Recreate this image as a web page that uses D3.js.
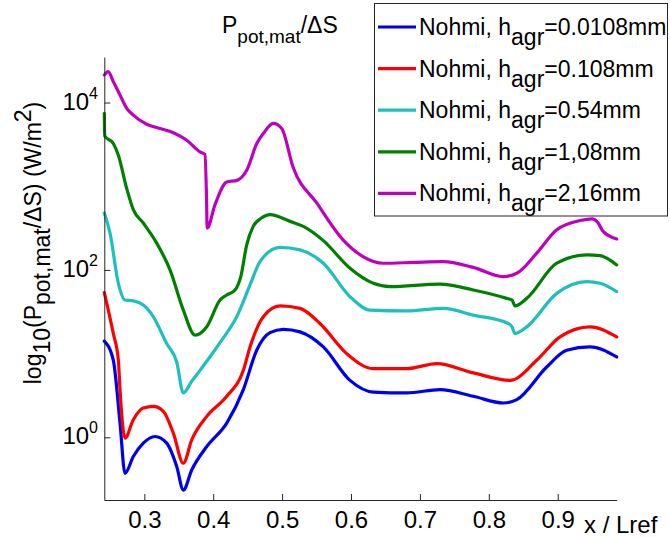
<!DOCTYPE html>
<html><head><meta charset="utf-8">
<script src="https://cdn.jsdelivr.net/npm/d3@7"></script>
<style>
body{margin:0;background:#fff}
text{font-family:"Liberation Sans",Arial,sans-serif;fill:#000}
</style>
</head><body>
<svg id="c" width="670" height="537"></svg>
<script>
// ---- data (y values are log10 of P_pot,mat/ΔS in W/m²) ----
const xTicks = [0.3,0.4,0.5,0.6,0.7,0.8,0.9];
const yTicks = [0,2,4];

const blueX = [0.2419,0.2550,0.2647,0.2720,0.2840,0.2985,0.3155,0.3325,0.3470,0.3566,0.3688,0.3906,0.4196,0.4437,0.4631,0.4824,0.5017,0.5259,0.5598,0.5985,0.6324,0.6808,0.7292,0.7775,0.8211,0.8405,0.8840,0.9130,0.9468,0.9856];
const blueY = [1.15,0.92,0.17,-0.43,-0.23,-0.07,0.01,-0.07,-0.35,-0.63,-0.39,-0.11,0.17,0.57,1.04,1.25,1.29,1.26,1.08,0.68,0.54,0.53,0.57,0.49,0.41,0.45,0.84,1.04,1.08,0.96];

const redX = [0.2419,0.2550,0.2623,0.2647,0.2720,0.2840,0.2985,0.3131,0.3276,0.3421,0.3566,0.3688,0.3906,0.4196,0.4437,0.4534,0.4727,0.4970,0.5259,0.5549,0.5937,0.6324,0.6808,0.7244,0.7775,0.8308,0.8695,0.9033,0.9468,0.9856];
const redY = [1.73,1.24,0.92,0.57,-0.01,0.21,0.35,0.37,0.31,0.05,-0.31,-0.03,0.25,0.49,0.80,1.08,1.44,1.57,1.54,1.36,1.00,0.82,0.82,0.88,0.77,0.68,0.92,1.20,1.32,1.20];

const cyanX = [0.2419,0.2502,0.2623,0.2720,0.2840,0.2985,0.3131,0.3325,0.3470,0.3566,0.3688,0.3808,0.3970,0.4123,0.4341,0.4534,0.4679,0.4970,0.5259,0.5598,0.5985,0.6276,0.6808,0.7340,0.7775,0.8283,0.8337,0.8380,0.8550,0.8986,0.9421,0.9614,0.9856];
const cyanY = [2.68,2.44,1.84,1.64,1.63,1.58,1.44,1.12,0.90,0.53,0.67,0.80,0.98,1.16,1.44,1.82,2.10,2.27,2.24,2.08,1.68,1.52,1.51,1.54,1.46,1.36,1.32,1.24,1.32,1.72,1.86,1.84,1.74];

const greenX = [0.2419,0.2425,0.2550,0.2623,0.2745,0.2840,0.2985,0.3180,0.3373,0.3566,0.3736,0.3906,0.4099,0.4196,0.4316,0.4400,0.4486,0.4580,0.4700,0.4824,0.5115,0.5308,0.5598,0.5985,0.6324,0.6566,0.7292,0.7775,0.8260,0.8337,0.8380,0.8550,0.8986,0.9421,0.9614,0.9856];
const greenY = [3.87,3.60,3.51,3.37,2.97,2.72,2.56,2.32,2.00,1.52,1.22,1.32,1.64,1.70,1.76,1.92,2.30,2.52,2.62,2.66,2.58,2.52,2.35,2.02,1.84,1.80,1.83,1.76,1.66,1.64,1.57,1.66,2.08,2.18,2.17,2.06];

const purpleX = [0.2420,0.2475,0.2550,0.2647,0.2745,0.2840,0.3035,0.3228,0.3421,0.3615,0.3808,0.3880,0.3903,0.3912,0.4026,0.4196,0.4345,0.4486,0.4632,0.4727,0.4872,0.4994,0.5158,0.5502,0.5884,0.6174,0.6464,0.6904,0.7335,0.7775,0.8206,0.8405,0.8695,0.8986,0.9324,0.9500,0.9580,0.9658,0.9856];
const purpleY = [4.33,4.37,4.25,4.09,3.93,3.85,3.74,3.69,3.64,3.55,3.41,3.38,2.85,2.50,2.78,3.05,3.07,3.19,3.51,3.63,3.75,3.69,3.23,2.80,2.36,2.16,2.08,2.09,2.10,2.03,1.92,1.96,2.20,2.48,2.59,2.61,2.57,2.46,2.37];

const seriesNames = ["0.0108mm","0.108mm","0.54mm","1,08mm","2,16mm"];
const seriesColors = ["#0000f0","#ff0000","#1fbfbf","#008000","#bf00bf"];
const seriesX = [blueX, redX, cyanX, greenX, purpleX];
const seriesY = [blueY, redY, cyanY, greenY, purpleY];

// ---- layout ----
const svg = d3.select("#c");
const L = 104.3, R = 616.7, T = 57, B = 500;
const x = d3.scaleLinear().domain([0.2419, 0.9856]).range([L, R]);
const y = d3.scaleLinear().domain([-0.749, 4.544]).range([B, T]);
const axisColor = "#262626";

// curves
const line = d3.line().x(d => x(d[0])).y(d => y(d[1])).curve(d3.curveMonotoneX);
seriesX.forEach((xs, i) => {
  const pts = xs.map((v, k) => [v, seriesY[i][k]]);
  svg.append("path").datum(pts).attr("d", line)
    .attr("fill", "none").attr("stroke", seriesColors[i])
    .attr("stroke-width", 3.2).attr("stroke-linejoin", "round").attr("stroke-linecap", "round");
});

// x axis
const gx = svg.append("g").attr("transform", `translate(0,${B})`)
  .call(d3.axisBottom(x).tickValues(xTicks).tickSizeInner(-6).tickSizeOuter(0).tickPadding(11).tickFormat(d3.format(".1f")));
gx.select(".domain").attr("stroke", axisColor);
gx.selectAll(".tick line").attr("stroke", axisColor);
gx.selectAll("text").attr("font-size", 24).attr("font-family", '"Liberation Sans",Arial,sans-serif').attr("fill", "#000");

// y axis
const gy = svg.append("g").attr("transform", `translate(${L},0)`)
  .call(d3.axisLeft(y).tickValues(yTicks).tickSizeInner(-6).tickSizeOuter(0).tickFormat(""));
gy.select(".domain").attr("stroke", axisColor);
gy.selectAll(".tick line").attr("stroke", axisColor);
yTicks.forEach(t => {
  const tx = svg.append("text").attr("x", 98).attr("y", y(t) + 7).attr("text-anchor", "end").attr("font-size", 24);
  tx.append("tspan").text("10");
  tx.append("tspan").attr("font-size", 16).attr("dy", -11).text(String(t));
});

// x label
svg.append("text").attr("x", 584).attr("y", 533).attr("font-size", 24).text("x / Lref");

// title
const title = svg.append("text").attr("x", 222).attr("y", 33).attr("font-size", 23);
title.append("tspan").text("P");
title.append("tspan").attr("dy", 10).attr("font-size", 19).text("pot,mat");
title.append("tspan").attr("dy", -10).text("/ΔS");

// y label
const yl = svg.append("text").attr("transform", "translate(41,243) rotate(-90)")
  .attr("text-anchor", "middle").attr("font-size", 23);
yl.append("tspan").text("log");
yl.append("tspan").attr("dy", 9).text("10");
yl.append("tspan").attr("dy", -9).text("(P");
yl.append("tspan").attr("dy", 9).text("pot,mat");
yl.append("tspan").attr("dy", -9).text("/ΔS) (W/m");
yl.append("tspan").attr("dy", -10).text("2");
yl.append("tspan").attr("dy", 10).text(")");

// legend
const lg = svg.append("g");
lg.append("rect").attr("x", 374.5).attr("y", 3.5).attr("width", 293).attr("height", 212.5)
  .attr("fill", "#fff").attr("stroke", axisColor).attr("stroke-width", 1);
seriesNames.forEach((n, i) => {
  const ly = 27 + i * 41.6;
  lg.append("line").attr("x1", 378).attr("x2", 416).attr("y1", ly).attr("y2", ly)
    .attr("stroke", seriesColors[i]).attr("stroke-width", 3.2);
  const t = lg.append("text").attr("x", 419).attr("y", ly + 8).attr("font-size", 23);
  t.append("tspan").text("Nohmi, h");
  t.append("tspan").attr("dy", 10).text("agr");
  t.append("tspan").attr("dy", -10).text("=" + n);
});
</script>
</body></html>
